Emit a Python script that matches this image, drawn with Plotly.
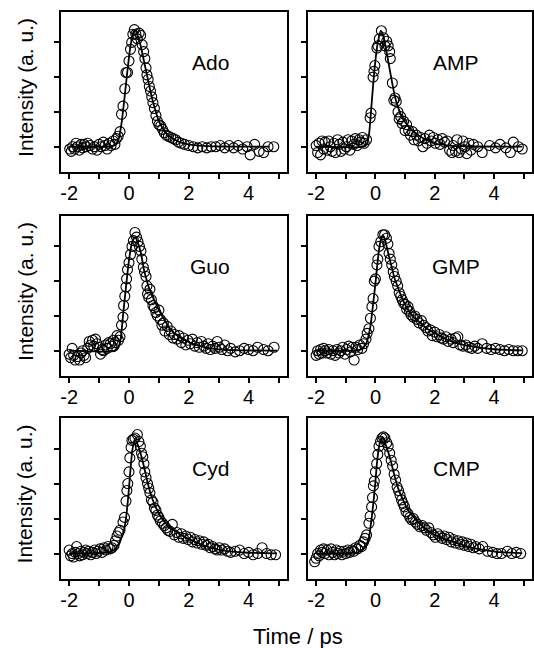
import plotly.graph_objects as go

# ---------------- data ----------------
names = ["Ado", "AMP", "Guo", "GMP", "Cyd", "CMP"]

ado_t = [-1.98,-1.93,-1.88,-1.82,-1.77,-1.72,-1.66,-1.6,-1.55,-1.5,-1.43,-1.38,-1.3,-1.22,-1.15,-1.07,-1.0,-0.93,-0.86,-0.8,-0.73,-0.66,-0.6,-0.53,-0.47,-0.42,-0.36,-0.3,
         -0.25,-0.2,-0.14,-0.1,-0.05,0.0,0.05,0.09,0.13,0.18,0.23,0.28,0.34,0.39,0.44,0.49,0.53,0.57,0.6,0.64,0.68,0.72,0.76,0.8,0.85,0.9,0.95,1.0,1.06,1.12,1.18,1.25,1.32,1.4,1.48,1.56,1.65,1.75,1.86,2.0,
         2.15,2.3,2.45,2.6,2.75,2.9,3.05,3.2,3.35,3.5,3.65,3.8,3.95,4.05,4.2,4.35,4.5,4.65,4.84]
ado_v = [-0.02,-0.04,0.0,-0.02,0.03,0.0,-0.03,0.02,-0.01,0.02,0.0,0.03,0.01,-0.02,0.0,-0.03,0.02,0.0,0.04,0.01,-0.02,0.03,0.01,0.05,0.02,0.07,0.09,0.13,
         0.28,0.35,0.5,0.64,0.64,0.74,0.84,0.9,0.97,1.01,0.97,0.93,0.98,0.96,0.88,0.82,0.76,0.68,0.62,0.58,0.52,0.48,0.43,0.38,0.33,0.27,0.22,0.19,0.18,0.15,0.12,0.1,0.09,0.08,0.07,0.06,0.04,0.03,0.02,0.01,
         0.0,-0.01,0.0,-0.01,0.0,0.0,0.01,-0.01,0.01,-0.01,0.01,-0.02,0.0,-0.07,0.02,-0.04,-0.05,0.0,0.0]
ado_fit_t = [-2,-0.6,-0.45,-0.35,-0.25,-0.15,-0.05,0.05,0.15,0.2,0.3,0.4,0.5,0.6,0.7,0.8,0.9,1.0,1.1,1.2,1.35,1.5,1.75,2.0,2.5,3.0,4.7]
ado_fit_v = [0,0.005,0.02,0.06,0.2,0.42,0.66,0.87,0.99,1.01,0.95,0.86,0.74,0.62,0.5,0.39,0.3,0.22,0.17,0.13,0.09,0.065,0.035,0.02,0.007,0.002,0.0]

amp_t = [-2.0,-1.95,-1.9,-1.85,-1.8,-1.75,-1.7,-1.63,-1.58,-1.52,-1.46,-1.4,-1.35,-1.28,-1.22,-1.16,-1.1,-1.05,-0.98,-0.92,-0.86,-0.8,-0.73,-0.68,-0.62,-0.55,-0.5,-0.44,-0.38,-0.3,
         -0.18,-0.15,-0.08,-0.05,-0.02,0.05,0.08,0.13,0.2,0.27,0.32,0.38,0.43,0.48,0.5,0.57,0.62,0.66,0.7,0.76,0.8,0.85,0.9,0.95,1.0,1.05,1.12,1.18,1.25,1.3,1.38,1.45,1.52,1.6,1.67,1.74,1.82,1.88,1.95,
         2.02,2.1,2.18,2.25,2.33,2.42,2.5,2.58,2.62,2.7,2.75,2.82,2.9,2.95,3.02,3.08,3.15,3.22,3.3,3.45,3.6,3.85,4.05,4.2,4.4,4.55,4.65,4.82,4.95]
amp_v = [0.01,-0.05,0.03,-0.07,0.05,-0.02,0.04,-0.03,0.05,0.0,-0.04,0.03,-0.05,0.06,0.02,-0.04,0.04,-0.02,0.0,0.06,-0.03,0.05,0.02,0.07,0.01,0.06,0.04,0.08,0.03,0.06,
         0.25,0.29,0.6,0.65,0.7,0.85,0.87,0.93,1.0,0.94,0.87,0.91,0.87,0.82,0.76,0.55,0.4,0.42,0.39,0.3,0.24,0.26,0.2,0.22,0.14,0.19,0.14,0.1,0.13,0.06,0.1,0.05,0.08,0.0,0.07,0.03,0.1,0.05,0.08,
         0.03,0.06,0.02,0.07,0.04,0.05,-0.03,-0.05,0.01,-0.04,0.06,-0.05,-0.02,0.05,0.0,-0.06,0.03,-0.03,0.02,0.0,-0.05,0.01,-0.01,0.02,-0.01,-0.05,0.04,0.0,-0.02]
amp_fit_t = [-2,-0.4,-0.3,-0.22,-0.12,-0.02,0.08,0.18,0.25,0.35,0.45,0.55,0.65,0.75,0.85,0.95,1.1,1.25,1.45,1.7,2.0,2.5,3.0,4.95]
amp_fit_v = [0,0.0,0.02,0.1,0.4,0.7,0.9,1.0,0.97,0.85,0.71,0.57,0.44,0.35,0.28,0.23,0.18,0.14,0.1,0.06,0.03,0.01,0.004,0.0]

guo_t = [-2.0,-1.95,-1.9,-1.85,-1.8,-1.72,-1.65,-1.6,-1.55,-1.5,-1.45,-1.38,-1.33,-1.28,-1.22,-1.18,-1.12,-1.07,-1.0,-0.95,-0.9,-0.85,-0.78,-0.73,-0.68,-0.62,-0.57,-0.52,-0.46,-0.4,-0.35,
         -0.3,-0.25,-0.2,-0.18,-0.14,-0.1,-0.08,-0.05,0.0,0.05,0.1,0.15,0.2,0.25,0.3,0.35,0.4,0.43,0.48,0.52,0.57,0.6,0.62,0.66,0.7,0.75,0.8,0.85,0.9,0.95,1.0,1.05,1.1,1.15,1.2,1.28,1.35,1.4,1.47,1.52,1.6,1.67,1.75,1.82,1.9,1.97,
         2.05,2.12,2.2,2.28,2.35,2.42,2.5,2.58,2.65,2.72,2.8,2.88,2.95,3.02,3.1,3.2,3.3,3.4,3.55,3.7,3.85,4.0,4.15,4.3,4.5,4.65,4.85]
guo_v = [-0.03,-0.06,0.02,-0.04,-0.08,-0.05,-0.08,-0.02,0.0,-0.04,-0.06,0.02,0.08,0.05,0.09,0.04,0.1,0.06,0.03,-0.03,0.01,0.0,0.05,0.02,0.07,0.06,0.04,0.09,0.07,0.13,0.09,
         0.12,0.22,0.29,0.39,0.47,0.55,0.62,0.7,0.76,0.83,0.9,0.95,1.02,0.98,0.94,0.9,0.86,0.79,0.72,0.68,0.64,0.56,0.49,0.46,0.53,0.44,0.39,0.37,0.33,0.3,0.35,0.27,0.22,0.24,0.17,0.21,0.14,0.17,0.11,0.14,0.1,0.13,0.07,0.11,0.05,0.09,
         0.06,0.1,0.04,0.07,0.03,0.08,0.04,0.02,0.06,0.01,0.04,0.02,0.08,0.03,0.01,0.05,0.0,0.02,-0.01,0.0,0.02,0.01,0.0,0.03,0.01,0.0,0.03]
guo_fit_t = [-2,-0.45,-0.35,-0.28,-0.2,-0.1,0.0,0.1,0.2,0.3,0.4,0.5,0.6,0.7,0.84,1.0,1.18,1.35,1.51,1.75,1.96,2.3,2.62,3.0,3.5,4.95]
guo_fit_v = [0,0.0,0.03,0.1,0.3,0.55,0.78,0.93,0.98,0.93,0.84,0.7,0.6,0.52,0.44,0.35,0.27,0.2,0.15,0.11,0.08,0.045,0.025,0.012,0.005,0.0]

gmp_t = [-2.0,-1.95,-1.9,-1.85,-1.8,-1.75,-1.7,-1.63,-1.57,-1.5,-1.43,-1.36,-1.3,-1.23,-1.17,-1.1,-1.03,-0.97,-0.9,-0.84,-0.78,-0.72,-0.66,-0.6,-0.53,-0.46,-0.4,
         -0.32,-0.28,-0.22,-0.17,-0.12,-0.08,-0.04,0.0,0.05,0.08,0.12,0.18,0.25,0.31,0.37,0.42,0.46,0.5,0.55,0.6,0.64,0.7,0.75,0.8,0.85,0.9,0.95,1.0,1.05,1.1,1.15,1.2,1.27,1.33,1.4,1.47,1.55,1.62,1.7,1.77,1.85,1.92,
         2.0,2.08,2.15,2.22,2.3,2.38,2.45,2.55,2.62,2.7,2.78,2.85,2.95,3.05,3.15,3.25,3.35,3.45,3.6,3.75,3.9,4.05,4.2,4.35,4.5,4.65,4.8,4.95]
gmp_v = [-0.04,0.0,-0.03,0.01,-0.02,0.02,0.0,-0.02,0.01,-0.03,0.0,-0.04,0.01,-0.02,0.0,0.03,-0.03,0.01,0.04,-0.01,0.03,-0.08,0.03,0.01,0.05,0.02,0.06,
         0.1,0.15,0.19,0.28,0.38,0.45,0.6,0.62,0.74,0.79,0.9,0.94,1.0,1.0,0.97,0.92,0.84,0.79,0.74,0.68,0.64,0.6,0.56,0.5,0.47,0.44,0.41,0.4,0.36,0.38,0.34,0.31,0.29,0.3,0.27,0.24,0.26,0.22,0.2,0.17,0.18,0.13,
         0.16,0.12,0.14,0.11,0.1,0.12,0.08,0.1,0.07,0.11,0.12,0.05,0.04,0.05,0.03,0.02,0.04,0.02,0.06,0.02,0.01,0.02,0.01,0.0,0.01,0.0,0.0,0.0]
gmp_fit_t = [-2,-0.6,-0.45,-0.3,-0.17,-0.08,0.0,0.07,0.13,0.2,0.27,0.35,0.45,0.55,0.65,0.78,0.9,1.11,1.3,1.56,1.8,2.0,2.3,2.56,2.9,3.2,3.55,3.9,4.4,4.95]
gmp_fit_v = [0,0.005,0.02,0.07,0.21,0.4,0.58,0.76,0.89,0.97,0.99,0.93,0.82,0.72,0.62,0.53,0.45,0.35,0.29,0.23,0.18,0.15,0.11,0.08,0.055,0.04,0.025,0.015,0.007,0.003]

cyd_t = [-2.0,-1.95,-1.9,-1.85,-1.8,-1.75,-1.7,-1.65,-1.6,-1.55,-1.5,-1.45,-1.4,-1.35,-1.28,-1.22,-1.15,-1.1,-1.03,-0.97,-0.9,-0.83,-0.77,-0.7,-0.63,-0.57,-0.5,-0.45,-0.4,-0.35,-0.3,
         -0.2,-0.15,-0.1,-0.07,-0.04,0.0,0.03,0.07,0.1,0.15,0.2,0.28,0.33,0.38,0.42,0.46,0.5,0.53,0.57,0.62,0.66,0.7,0.75,0.8,0.85,0.9,0.95,1.0,1.05,1.12,1.18,1.24,1.3,1.37,1.45,1.52,1.6,1.67,1.75,1.82,1.9,1.98,
         2.05,2.12,2.2,2.28,2.35,2.43,2.5,2.58,2.65,2.72,2.8,2.88,2.95,3.02,3.1,3.2,3.3,3.4,3.55,3.7,3.85,4.0,4.15,4.3,4.45,4.6,4.75,4.9]
cyd_v = [0.03,-0.02,0.0,-0.03,0.01,0.06,0.0,-0.02,0.02,-0.01,0.01,0.03,0.0,0.02,-0.01,0.01,0.03,0.0,0.02,0.04,0.01,0.05,0.03,0.06,0.04,0.05,0.07,0.11,0.15,0.18,0.2,
         0.27,0.31,0.45,0.54,0.6,0.7,0.82,0.91,0.97,0.98,0.99,1.02,0.96,0.92,0.86,0.83,0.77,0.7,0.65,0.6,0.56,0.52,0.46,0.44,0.39,0.37,0.33,0.31,0.28,0.26,0.24,0.22,0.2,0.19,0.25,0.16,0.18,0.14,0.17,0.13,0.15,0.12,
         0.14,0.1,0.12,0.09,0.11,0.08,0.1,0.07,0.08,0.05,0.06,0.04,0.03,0.05,0.03,0.04,0.02,0.01,0.02,0.03,0.0,0.01,-0.01,0.0,0.05,0.0,-0.01,-0.01]
cyd_fit_t = [-2,-0.7,-0.5,-0.35,-0.2,-0.11,-0.02,0.05,0.12,0.2,0.3,0.44,0.55,0.67,0.78,0.89,1.05,1.22,1.45,1.67,1.95,2.22,2.55,2.89,3.2,3.56,4.0,4.95]
cyd_fit_v = [0,0.01,0.03,0.08,0.17,0.28,0.5,0.72,0.9,0.97,0.93,0.81,0.69,0.56,0.47,0.4,0.32,0.26,0.21,0.17,0.13,0.1,0.065,0.04,0.025,0.014,0.007,0.002]

cmp_t = [-2.05,-2.0,-1.95,-1.9,-1.85,-1.8,-1.75,-1.7,-1.63,-1.57,-1.5,-1.45,-1.38,-1.32,-1.27,-1.2,-1.13,-1.07,-1.0,-0.93,-0.87,-0.8,-0.73,-0.67,-0.6,-0.53,-0.47,-0.4,-0.35,-0.3,
         -0.22,-0.18,-0.13,-0.1,-0.07,-0.04,0.0,0.04,0.08,0.12,0.17,0.22,0.27,0.32,0.38,0.43,0.48,0.53,0.58,0.63,0.68,0.73,0.78,0.83,0.88,0.93,0.98,1.03,1.1,1.16,1.22,1.28,1.35,1.42,1.5,1.58,1.65,1.72,1.8,1.87,1.95,
         2.02,2.1,2.18,2.25,2.33,2.4,2.48,2.55,2.63,2.7,2.78,2.85,2.93,3.0,3.08,3.15,3.22,3.3,3.38,3.5,3.62,3.78,3.95,4.1,4.25,4.45,4.6,4.75,4.9]
cmp_v = [-0.07,-0.04,0.0,-0.02,0.03,0.01,0.04,0.0,0.03,-0.01,0.04,0.01,-0.01,0.03,0.0,0.02,-0.01,0.02,0.0,0.03,0.01,0.03,0.02,0.05,0.04,0.07,0.06,0.1,0.13,0.16,
         0.26,0.32,0.4,0.48,0.58,0.62,0.7,0.77,0.85,0.92,0.96,0.99,1.0,0.99,0.95,0.92,0.86,0.8,0.75,0.68,0.63,0.57,0.54,0.5,0.46,0.43,0.4,0.36,0.34,0.31,0.29,0.3,0.27,0.25,0.23,0.24,0.22,0.2,0.22,0.18,0.16,
         0.14,0.17,0.15,0.13,0.15,0.12,0.14,0.1,0.12,0.09,0.11,0.08,0.1,0.07,0.09,0.06,0.08,0.05,0.06,0.04,0.06,0.02,0.01,0.0,0.0,0.02,0.0,0.01,0.0]
cmp_fit_t = [-2,-0.6,-0.45,-0.33,-0.22,-0.14,-0.06,0.0,0.06,0.14,0.24,0.35,0.5,0.64,0.78,0.95,1.11,1.3,1.44,1.7,2.0,2.4,2.78,3.1,3.44,3.8,4.1,4.5,4.95]
cmp_fit_v = [0,0.01,0.03,0.06,0.14,0.28,0.46,0.62,0.8,0.94,1.0,0.93,0.81,0.67,0.55,0.45,0.37,0.31,0.27,0.21,0.16,0.12,0.09,0.06,0.04,0.025,0.014,0.008,0.004]

x_tick_vals = [-2, -1, 0, 1, 2, 3, 4, 5]
x_tick_text = ["-2", "", "0", "", "2", "", "4", ""]
y_tick_vals = [0, 0.3, 0.6, 0.9]

points = [(ado_t, ado_v), (amp_t, amp_v), (guo_t, guo_v), (gmp_t, gmp_v), (cyd_t, cyd_v), (cmp_t, cmp_v)]
fits = [(ado_fit_t, ado_fit_v), (amp_fit_t, amp_fit_v), (guo_fit_t, guo_fit_v),
        (gmp_fit_t, gmp_fit_v), (cyd_fit_t, cyd_fit_v), (cmp_fit_t, cmp_fit_v)]

# ---------------- layout geometry ----------------
W, H = 534, 648
col_px = [(60, 287), (308, 533)]
row_px = [(12, 172), (216, 376), (418, 579)]
FONT = "Liberation Sans, Arial, sans-serif"

fig = go.Figure()
layout = dict(width=W, height=H, margin=dict(l=0, r=0, t=0, b=0),
              paper_bgcolor="white", plot_bgcolor="white", showlegend=False,
              font=dict(family=FONT, color="black"))
annotations = []

for i in range(6):
    r, c = divmod(i, 2)
    k = i + 1
    xa = "x" if k == 1 else f"x{k}"
    ya = "y" if k == 1 else f"y{k}"
    xd = [col_px[c][0] / W, col_px[c][1] / W]
    yd = [1 - row_px[r][1] / H, 1 - row_px[r][0] / H]
    layout["xaxis" if k == 1 else f"xaxis{k}"] = dict(
        domain=xd, anchor=ya, range=[-2.28, 5.28],
        tickmode="array", tickvals=x_tick_vals, ticktext=x_tick_text,
        ticks="outside", ticklen=5, tickwidth=1.5, tickcolor="black",
        ticklabelstandoff=-3,
        tickfont=dict(size=20, family=FONT, color="black"),
        showline=True, linewidth=2, linecolor="black", mirror=True,
        showgrid=False, zeroline=False)
    layout["yaxis" if k == 1 else f"yaxis{k}"] = dict(
        domain=yd, anchor=xa, range=[-0.218, 1.162],
        tickmode="array", tickvals=y_tick_vals, showticklabels=False,
        ticks="outside", ticklen=5, tickwidth=1.5, tickcolor="black",
        showline=True, linewidth=2, linecolor="black", mirror=True,
        showgrid=False, zeroline=False)
    pt, pv = points[i]
    ft, fv = fits[i]
    fig.add_trace(go.Scatter(x=pt, y=pv, mode="markers", xaxis=xa, yaxis=ya,
                             marker=dict(symbol="circle-open", size=10, color="black",
                                         line=dict(width=1.1, color="black"))))
    fig.add_trace(go.Scatter(x=ft, y=fv, mode="lines", xaxis=xa, yaxis=ya,
                             line=dict(color="black", width=1.8, shape="spline", smoothing=0.6)))
    annotations.append(dict(text=names[i], x=2.72, y=0.73, xref=xa, yref=ya,
                            showarrow=False, font=dict(size=21, family=FONT, color="black")))

for r in range(3):
    yc = (row_px[r][0] + row_px[r][1]) / 2 - 5
    annotations.append(dict(text="Intensity (a. u.)", x=24 / W, y=1 - yc / H,
                            xref="paper", yref="paper", textangle=-90, showarrow=False,
                            xanchor="center", yanchor="middle",
                            font=dict(size=21, family=FONT, color="black")))

annotations.append(dict(text="Time / ps", x=298 / W, y=1 - 636 / H, xref="paper", yref="paper",
                        showarrow=False, xanchor="center", yanchor="middle",
                        font=dict(size=22, family=FONT, color="black")))

layout["annotations"] = annotations
fig.update_layout(**layout)
fig.write_html("out.html")
